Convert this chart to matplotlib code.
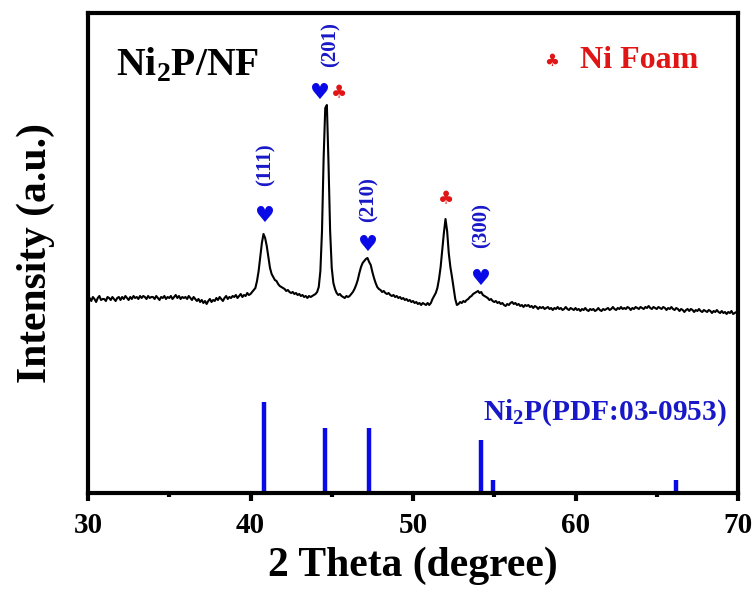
import numpy as np
import matplotlib
matplotlib.use('Agg')
import matplotlib.pyplot as plt

plt.rcParams['font.family'] = ['Liberation Serif', 'DejaVu Serif']
plt.rcParams['font.weight'] = 'bold'
plt.rcParams['mathtext.fontset'] = 'custom'
plt.rcParams['mathtext.rm'] = 'Liberation Serif:bold'
plt.rcParams['mathtext.bf'] = 'Liberation Serif:bold'

######## XRD pattern (2theta 30-70, step 0.1)
two_theta = np.round(np.arange(30.0, 70.05, 0.1), 1)
intensity = [
    193, 195, 192, 196, 194, 191, 195, 197, 193, 194,  # 30
    194, 192, 196, 195, 193, 196, 194, 192, 195, 196,  # 31
    193, 196, 194, 197, 195, 193, 196, 194, 197, 195,  # 32
    196, 194, 197, 195, 197, 196, 194, 197, 195, 196,  # 33
    196, 194, 197, 195, 193, 196, 195, 197, 194, 196,  # 34
    195, 197, 194, 196, 198, 195, 197, 194, 196, 195,  # 35
    196, 194, 197, 195, 193, 196, 194, 192, 194, 191,  # 36
    193, 190, 192, 189, 192, 194, 191, 193, 192, 195,  # 37
    193, 196, 194, 192, 195, 197, 194, 196, 195, 197,  # 38
    196, 198, 195, 197, 199, 196, 198, 197, 200, 198,  # 39
    199, 201, 203, 205, 212, 222, 236, 250, 259, 255,  # 40
    247, 236, 225, 219, 216, 213, 212, 209, 207, 206,  # 41
    205, 204, 202, 203, 201, 200, 201, 199, 200, 198,  # 42
    199, 197, 198, 196, 197, 195, 197, 196, 197, 198,  # 43
    199, 201, 206, 222, 262, 335, 385, 388, 330, 262,  # 44
    225, 210, 204, 200, 198, 199, 197, 196, 195, 197,  # 45
    196, 197, 199, 201, 204, 208, 213, 220, 226, 230,  # 46
    232, 234, 235, 231, 228, 221, 215, 210, 206, 204,  # 47
    203, 201, 202, 200, 199, 200, 198, 197, 198, 196,  # 48
    197, 195, 196, 194, 195, 193, 194, 192, 193, 191,  # 49
    192, 190, 191, 189, 190, 188, 190, 189, 188, 190,  # 50
    188, 190, 194, 197, 200, 205, 214, 226, 243, 260,  # 51
    274, 262, 240, 226, 216, 205, 194, 188, 189, 191,  # 52
    190, 192, 191, 193, 194, 196, 197, 199, 200, 201,  # 53
    202, 200, 201, 198, 197, 196, 195, 193, 194, 192,  # 54
    191, 192, 190, 191, 189, 190, 188, 187, 189, 188,  # 55
    190, 191, 189, 190, 188, 189, 187, 188, 186, 188,  # 56
    187, 188, 186, 187, 185, 187, 186, 184, 186, 185,  # 57
    186, 184, 185, 186, 184, 185, 183, 185, 184, 186,  # 58
    184, 185, 183, 184, 186, 184, 183, 185, 184, 183,  # 59
    185, 183, 184, 182, 184, 183, 185, 183, 182, 184,  # 60
    183, 184, 182, 183, 185, 183, 182, 184, 183, 184,  # 61
    185, 183, 184, 186, 184, 183, 185, 184, 186, 184,  # 62
    185, 184, 186, 185, 183, 185, 184, 186, 185, 184,  # 63
    186, 185, 184, 186, 185, 187, 185, 184, 186, 185,  # 64
    184, 186, 185, 184, 186, 185, 183, 185, 184, 186,  # 65
    184, 183, 185, 184, 182, 184, 183, 181, 183, 184,  # 66
    182, 184, 183, 181, 183, 182, 184, 182, 181, 183,  # 67
    182, 181, 183, 182, 180, 182, 181, 183, 181, 180,  # 68
    182, 180, 181, 179, 181, 180, 182, 179, 180, 181,  # 69
    180,                                               # 70
]

######## Ni2P reference lines (PDF 03-0953)
pdf_pos = [40.8, 44.6, 47.3, 54.2, 54.9, 66.2]
pdf_int = [91, 65, 65, 53, 13, 13]

######## peak marks
ni2p_peaks = [40.9, 44.28, 47.25, 54.2]
ni2p_heart_y = [277, 400, 248, 214]
hkl = ['(111)', '(201)', '(210)', '(300)']
hkl_y = [328, 448, 293, 268]
hkl_x = [40.95, 44.9, 47.25, 54.2]
foam_peaks = [45.45, 52.03]
foam_y = [400, 294]

blue = '#0a0ae6'
txt_blue = '#1818c8'
red = '#e01515'

fig = plt.figure(figsize=(7.55, 5.92), dpi=100)
ax = fig.add_axes([88/755, 1-493/592, 650/755, 480/592])

ax.plot(two_theta, intensity, color='black', lw=1.5)
ax.vlines(pdf_pos, 0, pdf_int, color=blue, lw=3.2)

for x, y in zip(ni2p_peaks, ni2p_heart_y):
    ax.text(x, y, '\u2665', color=blue, fontsize=16, family='DejaVu Sans',
            ha='center', va='center')
for x, y in zip(foam_peaks, foam_y):
    ax.text(x, y, '\u2663', color=red, fontsize=13, family='DejaVu Sans',
            ha='center', va='center')
for x, y, s in zip(hkl_x, hkl_y, hkl):
    ax.text(x, y, s, color=txt_blue, fontsize=15, rotation=90,
            ha='center', va='center', fontweight='bold')

ax.text(31.75, 418, 'Ni$_\\mathbf{2}$P/NF', fontsize=28.5, fontweight='bold',
        color='black', va='baseline')
ax.text(58.5, 432, '\u2663', color=red, fontsize=12, family='DejaVu Sans',
        ha='center', va='center')
ax.text(60.3, 425, 'Ni Foam', color=red, fontsize=23, fontweight='bold',
        va='baseline')
ax.text(54.3, 73, 'Ni$_\\mathbf{2}$P(PDF:03-0953)', color=txt_blue,
        fontsize=21.2, fontweight='bold', va='baseline')

ax.set_xlim(30, 70)
ax.set_ylim(0, 480)
ax.set_xticks([30, 40, 50, 60, 70])
ax.set_xticks([35, 45, 55, 65], minor=True)
ax.tick_params(axis='x', which='major', direction='out', length=6, width=3,
               labelsize=21, pad=8)
ax.tick_params(axis='x', which='minor', direction='out', length=3, width=3)
ax.tick_params(axis='y', left=False, labelleft=False)
for sp in ax.spines.values():
    sp.set_linewidth(3)

ax.set_xlabel('2 Theta (degree)', fontsize=30, fontweight='bold', labelpad=5)
ax.set_ylabel('Intensity (a.u.)', fontsize=30, fontweight='bold', labelpad=24)

plt.savefig('out.png', dpi=100)
